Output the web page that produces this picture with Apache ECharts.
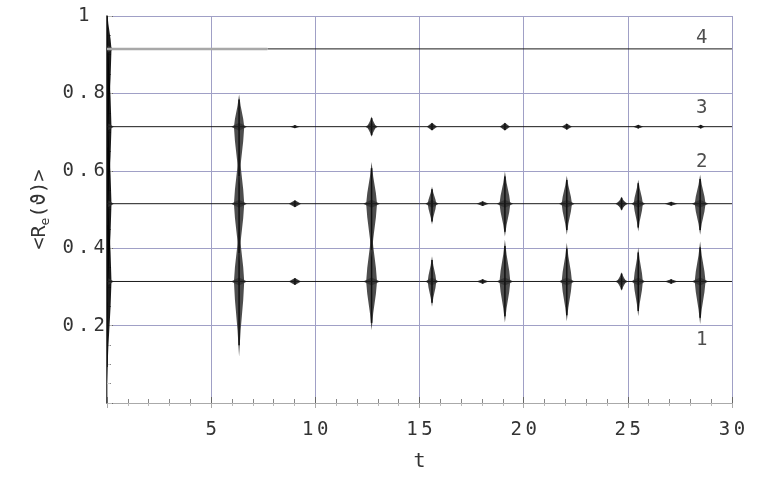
<!DOCTYPE html>
<html>
<head>
<meta charset="utf-8">
<script src="https://cdn.jsdelivr.net/npm/echarts@6/dist/echarts.min.js"></script>
<style>
  html, body { margin: 0; padding: 0; background: #fff; }
  #chart { width: 771px; height: 477px; }
</style>
</head>
<body>
<div id="chart"></div>
<script>
// tick labels
const xTickLabels = ['', '5', '10', '15', '20', '25', '30'];
const yTickLabels = ['', '0.2', '0.4', '0.6', '0.8', '1'];

// level of each curve (1..4)
const levels = [0.314, 0.515, 0.714, 0.915];
const curveNames = ['1', '2', '3', '4'];
// where the curve number is written [t, y]
const curveLabelPos = [[28.55, 0.163], [28.55, 0.622], [28.55, 0.761], [28.55, 0.944]];

// bursts per curve: [t, up, down, halfWidth]
const bursts1 = [
    [0, 0.30, 0.26, 0.33], [6.34, 0.15, 0.194, 0.38], [9.02, 0.009, 0.009, 0.3],
    [12.7, 0.14, 0.126, 0.4], [15.6, 0.065, 0.065, 0.32], [18.03, 0.006, 0.006, 0.3],
    [19.1, 0.108, 0.106, 0.4], [22.07, 0.1, 0.103, 0.38], [24.7, 0.024, 0.024, 0.3],
    [25.5, 0.088, 0.09, 0.34], [27.08, 0.006, 0.006, 0.32], [28.47, 0.103, 0.11, 0.4]
];
const bursts2 = [
    [0, 0.30, 0.30, 0.33], [6.34, 0.15, 0.15, 0.38], [9.02, 0.009, 0.009, 0.3],
    [12.7, 0.108, 0.14, 0.4], [15.6, 0.044, 0.054, 0.32], [18.03, 0.006, 0.006, 0.3],
    [19.1, 0.083, 0.085, 0.4], [22.07, 0.072, 0.08, 0.38], [24.7, 0.018, 0.018, 0.3],
    [25.5, 0.062, 0.072, 0.34], [27.08, 0.005, 0.005, 0.32], [28.47, 0.075, 0.08, 0.4]
];
const bursts3 = [
    [0, 0.30, 0.30, 0.33], [6.34, 0.083, 0.15, 0.38], [9.02, 0.004, 0.004, 0.25],
    [12.7, 0.026, 0.026, 0.3], [15.6, 0.01, 0.01, 0.25], [19.1, 0.01, 0.01, 0.25],
    [22.07, 0.008, 0.008, 0.25], [25.5, 0.005, 0.005, 0.25], [28.5, 0.005, 0.005, 0.2]
];
const bursts4 = [
    [0, 0.10, 0.30, 0.33]
];
// curve 4 is drawn grey at the start, then black
const line4GreyEnd = 7.7;

const burstData = [];
[bursts1, bursts2, bursts3, bursts4].forEach((list, i) => {
    list.forEach(b => burstData.push([b[0], levels[i], b[1], b[2], b[3]]));
});

const monoFont = '"DejaVu Sans Mono", monospace';
const xRich = { c: { width: 15, align: 'center', fontSize: 19, fontFamily: monoFont, color: '#333' } };
const yRich = { c: { width: 15.5, align: 'center', fontSize: 19, fontFamily: monoFont, color: '#333' } };
function boxes(str) {
    return str.split('').map(ch => ch === ' ' ? '{c|\u00a0}' : '{c|' + ch + '}').join('');
}

function renderBurst(params, api) {
    const t = api.value(0), L = api.value(1), up = api.value(2), down = api.value(3), hw = api.value(4);
    const c = api.coord([t, L]);
    const top = api.coord([t, L + up])[1];
    const bot = api.coord([t, L - down])[1];
    const hwPx = api.size([hw, 0])[0];
    const sw = Math.max(1.2, hwPx * 0.65);
    const ua = c[1] - top, da = bot - c[1];
    const dh = Math.min(ua, 4), dhb = Math.min(da, 4);
    const spindle = [
        [c[0], top],
        [c[0] + sw * 0.3, top + ua * 0.35],
        [c[0] + sw * 0.8, top + ua * 0.75],
        [c[0] + sw, c[1]],
        [c[0] + sw * 0.8, bot - da * 0.75],
        [c[0] + sw * 0.3, bot - da * 0.35],
        [c[0], bot],
        [c[0] - sw * 0.3, bot - da * 0.35],
        [c[0] - sw * 0.8, bot - da * 0.75],
        [c[0] - sw, c[1]],
        [c[0] - sw * 0.8, top + ua * 0.75],
        [c[0] - sw * 0.3, top + ua * 0.35]
    ];
    const diamond = [[c[0] - hwPx, c[1]], [c[0], c[1] - dh], [c[0] + hwPx, c[1]], [c[0], c[1] + dhb]];
    const dark = t === 0;
    return {
        type: 'group',
        children: [
            { type: 'polygon', shape: { points: spindle }, style: { fill: dark ? '#000' : '#3a3a3a', opacity: 0.9 } },
            { type: 'polygon', shape: { points: diamond }, style: { fill: '#333', opacity: 0.9 } },
            { type: 'line', shape: { x1: c[0], y1: top + ua * 0.15, x2: c[0], y2: bot - da * 0.15 }, style: { stroke: '#111', lineWidth: 1.5 } }
        ]
    };
}

const chart = echarts.init(document.getElementById('chart'));
chart.setOption({
    animation: false,
    backgroundColor: '#fff',
    grid: { left: 107, right: 39, top: 16, bottom: 73 },
    xAxis: [{
        type: 'value', min: 0, max: 30, interval: 5,
        name: 't', nameLocation: 'middle', nameGap: 49,
        nameTextStyle: { fontSize: 20, fontFamily: monoFont, color: '#333' },
        axisLine: { lineStyle: { color: '#444', width: 1 } },
        axisTick: { show: true, inside: true, length: 6, lineStyle: { color: '#666' } },
        minorTick: { show: true, splitNumber: 5, length: 4, lineStyle: { color: '#888' } },
        splitLine: { show: true, lineStyle: { color: '#a0a0c6', width: 1 } },
        axisLabel: { margin: 18, formatter: (v, i) => boxes(xTickLabels[i] || ''), rich: xRich }
    }, {
        type: 'value', min: 0, max: 30, interval: 5, position: 'top',
        axisLine: { show: true, lineStyle: { color: '#aaa' } },
        axisTick: { show: true, inside: true, length: 5, lineStyle: { color: '#aaa' } },
        minorTick: { show: true, splitNumber: 5, length: 3, lineStyle: { color: '#bbb' } },
        splitLine: { show: false }, axisLabel: { show: false }
    }],
    yAxis: [{
        type: 'value', min: 0, max: 1, interval: 0.2,
        name: '<R{sub|e}(ϑ)>', nameLocation: 'middle', nameGap: 48,
        nameTextStyle: {
            fontSize: 20, fontFamily: monoFont, color: '#333',
            rich: { sub: { fontSize: 13, fontFamily: monoFont, color: '#333', padding: [10, 0, 0, 0] } }
        },
        axisLine: { show: true, lineStyle: { color: '#111', width: 1.5 } },
        axisTick: { show: true, inside: true, length: 6, lineStyle: { color: '#666' } },
        minorTick: { show: true, splitNumber: 4, length: 4, lineStyle: { color: '#888' } },
        splitLine: { show: true, lineStyle: { color: '#a0a0c6', width: 1 } },
        axisLabel: {
            margin: 0,
            formatter: (v, i) => {
                const s = yTickLabels[i] || '';
                return s && s.indexOf('.') < 0 ? boxes(s + ' ') : boxes(s);
            },
            rich: yRich
        }
    }, {
        type: 'value', min: 0, max: 1, interval: 0.2, position: 'right',
        axisLine: { show: true, lineStyle: { color: '#aaa' } },
        axisTick: { show: true, inside: false, length: 5, lineStyle: { color: '#bbb' } },
        minorTick: { show: true, splitNumber: 4, length: 3, lineStyle: { color: '#ccc' } },
        splitLine: { show: false }, axisLabel: { show: false }
    }],
    series: [
        {
            type: 'custom', renderItem: renderBurst, data: burstData, clip: true, z: 2,
            encode: { x: 0, y: 1 }
        },
        ...levels.map((L, i) => ({
            type: 'line', symbol: 'none', z: 3, silent: true,
            lineStyle: { color: '#1a1a1a', width: 1 },
            data: i === 3 ? [[line4GreyEnd, L], [30, L]] : [[0, L], [30, L]]
        })),
        {
            type: 'line', symbol: 'none', z: 3, silent: true,
            lineStyle: { color: '#a8a8a8', width: 2.5 },
            data: [[0, levels[3]], [line4GreyEnd, levels[3]]]
        },
        {
            type: 'scatter', symbolSize: 0, z: 4, silent: true,
            data: curveLabelPos.map((p, i) => ({ name: curveNames[i], value: p })),
            label: {
                show: true, position: 'inside', formatter: '{b}',
                fontSize: 19, fontFamily: monoFont, color: '#222'
            }
        }
    ]
});
</script>
</body>
</html>
